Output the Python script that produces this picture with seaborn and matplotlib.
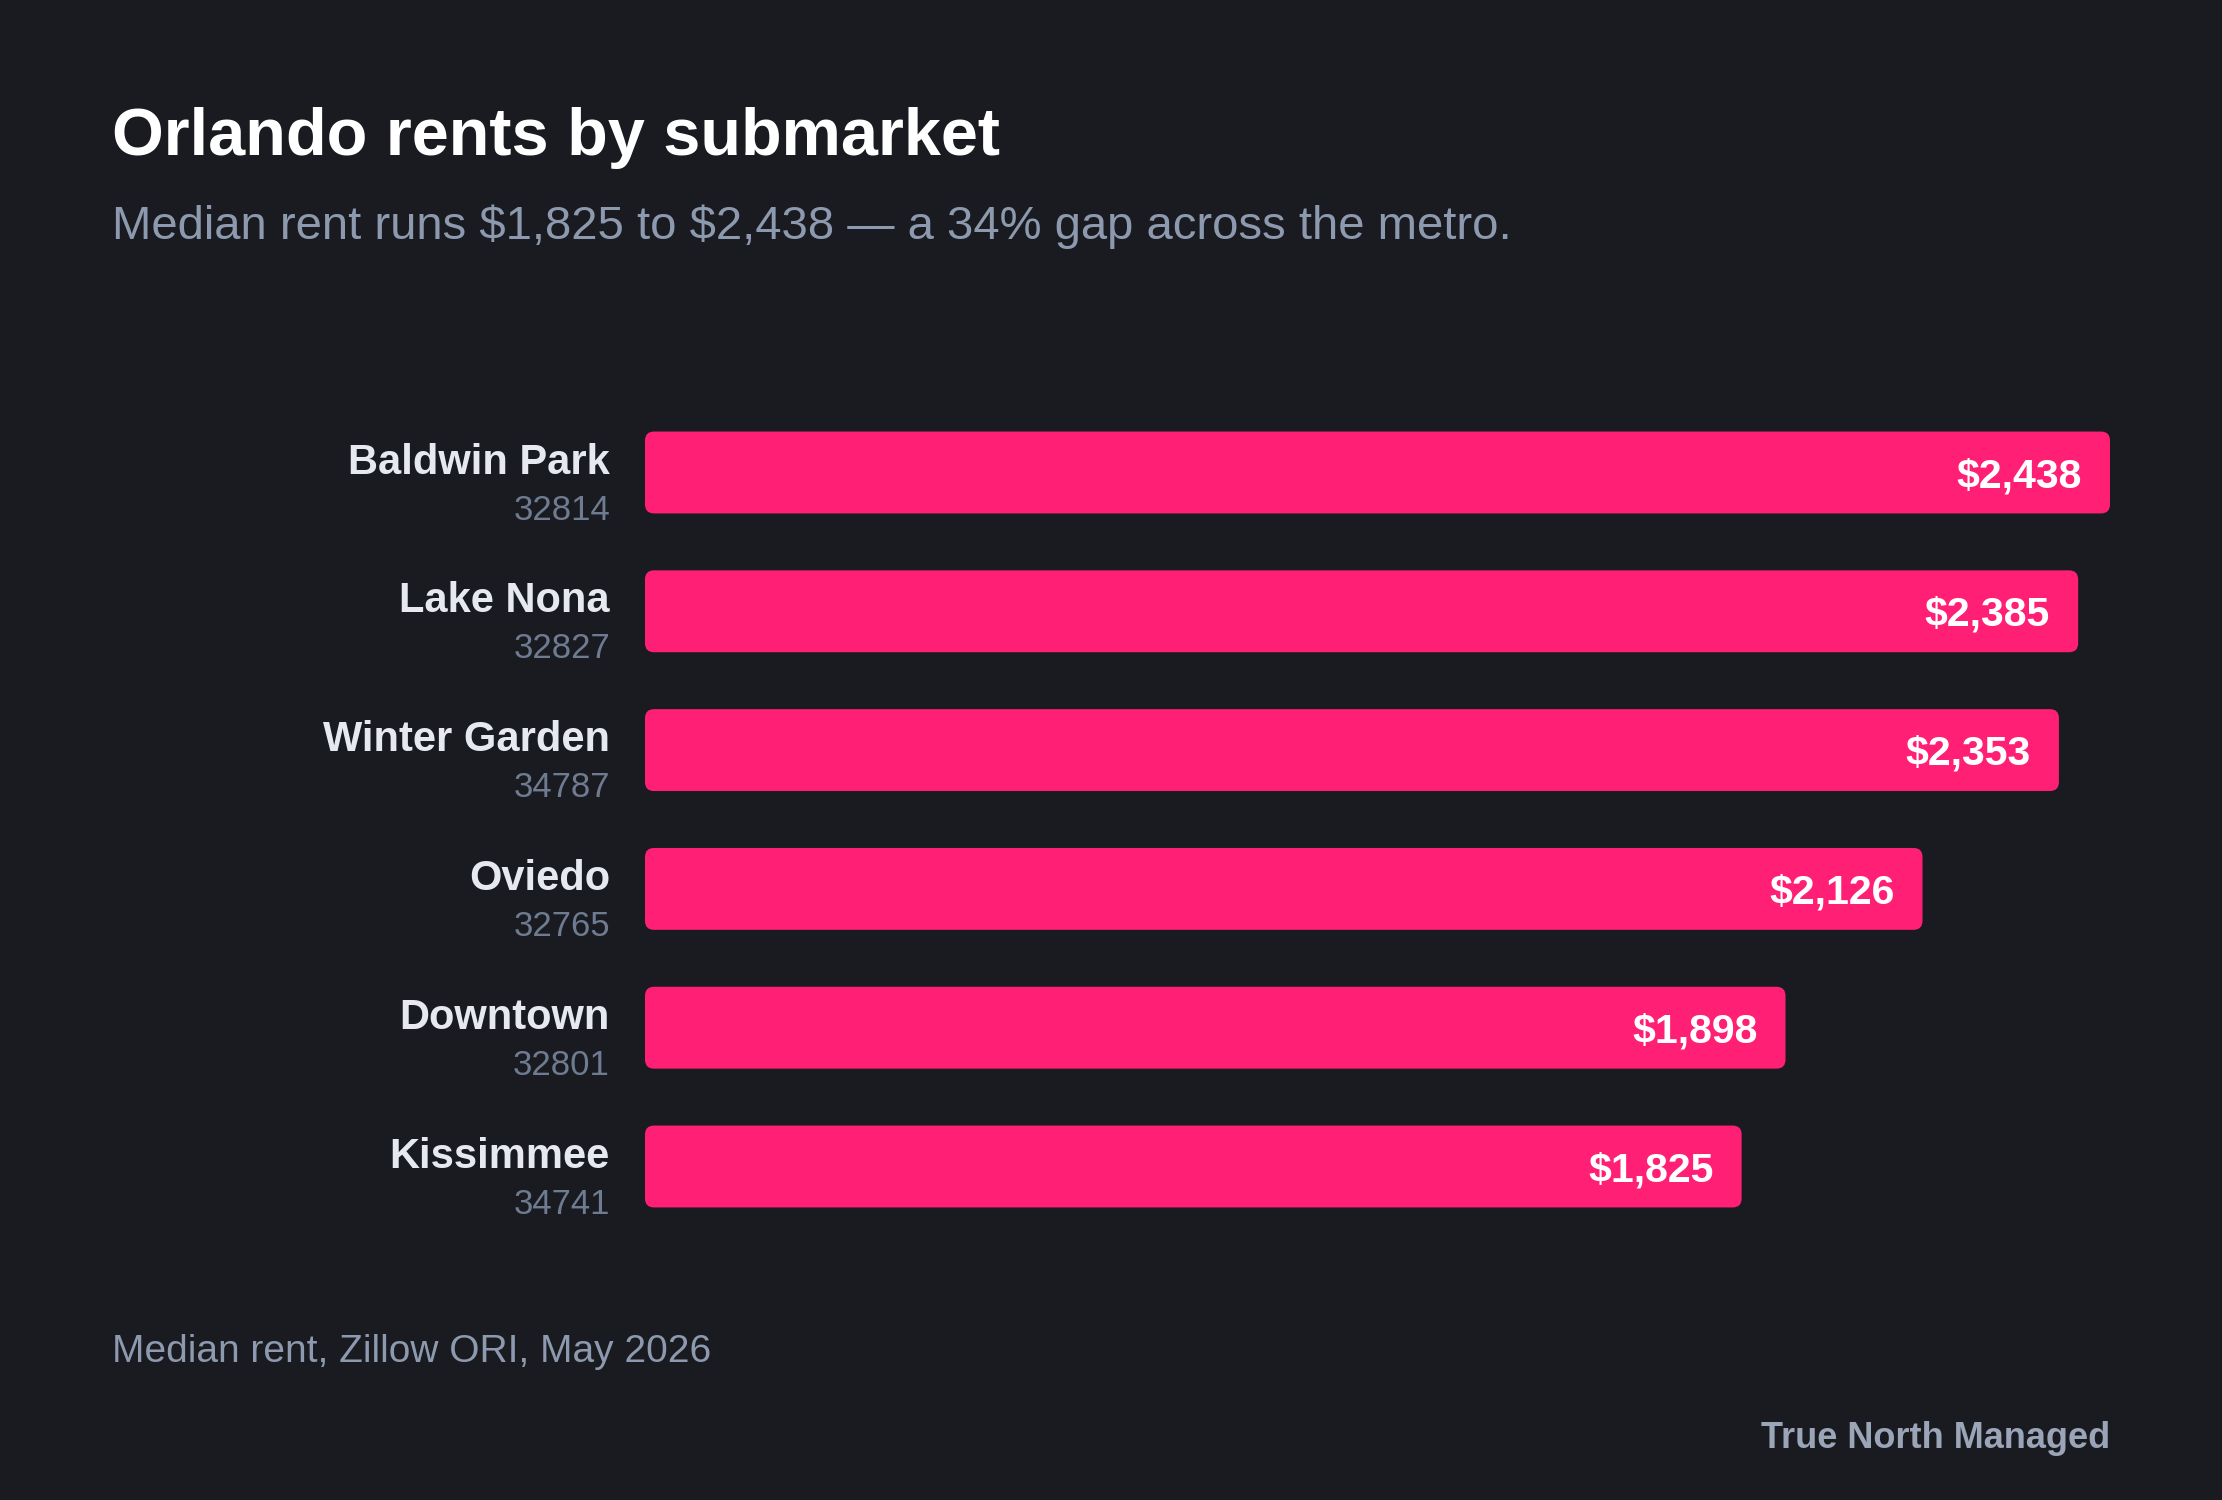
import matplotlib
matplotlib.use("Agg")
import matplotlib.pyplot as plt
import seaborn as sns
import pandas as pd
from matplotlib.patches import FancyBboxPatch

# ---- data ----
submarkets = ["Baldwin Park", "Lake Nona", "Winter Garden", "Oviedo", "Downtown", "Kissimmee"]
zip_codes = ["32814", "32827", "34787", "32765", "32801", "34741"]
median_rent = [2438, 2385, 2353, 2126, 1898, 1825]
value_labels = ["$2,438", "$2,385", "$2,353", "$2,126", "$1,898", "$1,825"]

title = "Orlando rents by submarket"
subtitle = "Median rent runs $1,825 to $2,438 \u2014 a 34% gap across the metro."
source_note = "Median rent, Zillow ORI, May 2026"
brand = "True North Managed"

# ---- style ----
sns.set_theme(style="dark")
plt.rcParams['font.family'] = ['Liberation Sans', 'DejaVu Sans']
plt.rcParams['text.parse_math'] = False

BG = "#191b20"
BAR = "#ff1f75"
NAME_C = "#e6eaf0"
ZIP_C = "#6e7b90"
SUB_C = "#8c99ae"
BRAND_C = "#9aa5b8"

W, H = 2222, 1500
fig = plt.figure(figsize=(W / 100, H / 100), dpi=100, facecolor=BG)

ax_l, ax_r = 645, 2110
n = len(submarkets)
pitch = 138.8
top_px = 472.5 - pitch / 2
bot_px = top_px + pitch * n
ax = fig.add_axes([ax_l / W, 1 - bot_px / H, (ax_r - ax_l) / W, (bot_px - top_px) / H])

df = pd.DataFrame({"submarket": submarkets, "rent": median_rent})
sns.barplot(data=df, x="rent", y="submarket", color=BAR, saturation=1,
            width=0.59, errorbar=None, orient="h", ax=ax)

xmax = max(median_rent)
ax.set_xlim(0, xmax)
ax.set_ylim(n - 0.5, -0.5)
ax.set_axis_off()

# rounded bars
axw_px = ax_r - ax_l
axh_px = bot_px - top_px
r_px = 9
x_per_px = xmax / axw_px
y_per_px = n / axh_px
for p in list(ax.patches):
    x, y, w, h = p.get_x(), p.get_y(), p.get_width(), p.get_height()
    fc = p.get_facecolor()
    p.remove()
    ax.add_patch(FancyBboxPatch((x, y), w, h,
                                boxstyle=f"round,pad=0,rounding_size={r_px * x_per_px}",
                                mutation_aspect=y_per_px / x_per_px,
                                facecolor=fc, edgecolor="none"))

for i, (name, z, v, lab) in enumerate(zip(submarkets, zip_codes, median_rent, value_labels)):
    ax.annotate(name, xy=(0, i), xytext=(-35, -1), textcoords="offset pixels",
                ha="right", va="baseline", fontsize=30, weight="bold", color=NAME_C,
                annotation_clip=False)
    ax.annotate(z, xy=(0, i), xytext=(-35, -47), textcoords="offset pixels",
                ha="right", va="baseline", fontsize=25, color=ZIP_C,
                annotation_clip=False)
    ax.annotate(lab, xy=(v, i), xytext=(-28, -14.5), textcoords="offset pixels",
                ha="right", va="baseline", fontsize=29.5, weight="bold", color="white",
                annotation_clip=False)

fig.text(112 / W, 1 - 155 / H, title, ha="left", va="baseline",
         fontsize=48, weight="bold", color="white")
fig.text(112 / W, 1 - 239 / H, subtitle, ha="left", va="baseline",
         fontsize=34, color=SUB_C)
fig.text(112 / W, 1 - 1362 / H, source_note, ha="left", va="baseline",
         fontsize=28, color=SUB_C)
fig.text(2110 / W, 1 - 1448 / H, brand, ha="right", va="baseline",
         fontsize=26, weight="bold", color=BRAND_C)

fig.savefig("out.png", dpi=100, facecolor=BG)
